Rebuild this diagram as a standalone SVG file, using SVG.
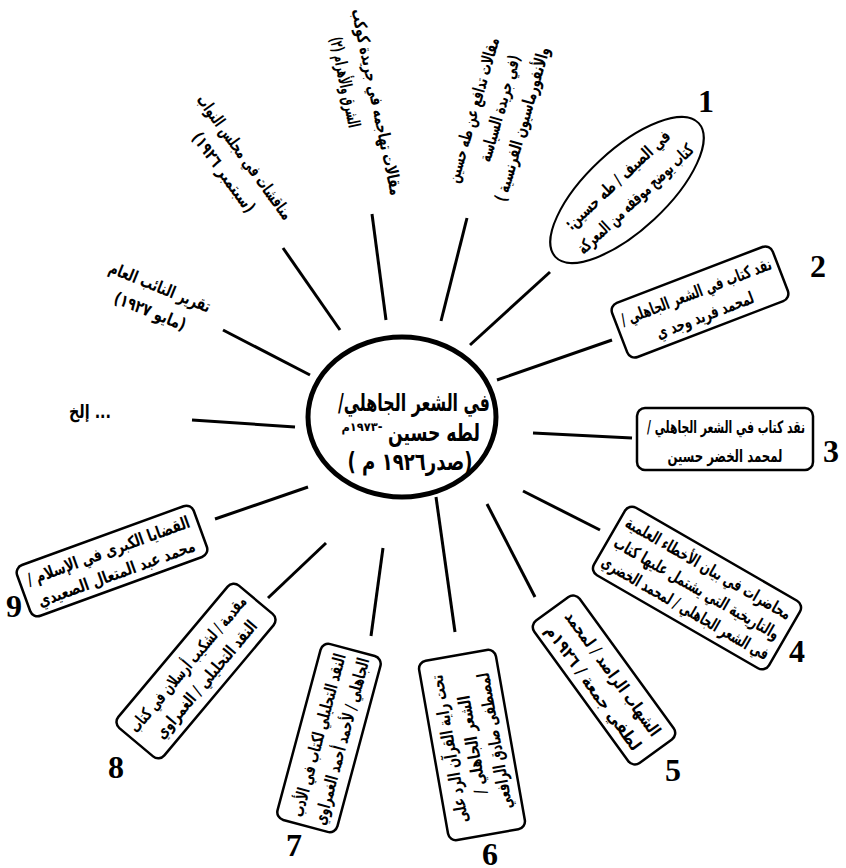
<svg xmlns="http://www.w3.org/2000/svg" width="846" height="868" viewBox="0 0 846 868">
<style>
.ln{stroke:#000;stroke-width:3;fill:none}
.box{fill:#fff;stroke:#000;stroke-width:2.5}
.t{font-family:'DejaVu Sans',sans-serif;font-weight:bold;font-size:17px;text-anchor:middle;direction:rtl;fill:#000}
.num{font-family:'Liberation Serif',serif;font-weight:bold;font-size:32px;text-anchor:middle;fill:#000}
</style>
<rect width="846" height="868" fill="#fff"/>
<g id="connectors">
<line class="ln" x1="283" y1="248" x2="340" y2="330"/>
<line class="ln" x1="372" y1="214" x2="386" y2="320"/>
<line class="ln" x1="467" y1="218" x2="441" y2="321"/>
<line class="ln" x1="470" y1="345" x2="550" y2="272"/>
<line class="ln" x1="497" y1="380" x2="612" y2="340"/>
<line class="ln" x1="533" y1="433" x2="632" y2="438"/>
<line class="ln" x1="523" y1="491" x2="600" y2="530"/>
<line class="ln" x1="487" y1="504" x2="535" y2="597"/>
<line class="ln" x1="436" y1="497" x2="455" y2="632"/>
<line class="ln" x1="383" y1="548" x2="371" y2="636"/>
<line class="ln" x1="326" y1="543" x2="268" y2="598"/>
<line class="ln" x1="308" y1="487" x2="215" y2="519"/>
<line class="ln" x1="295" y1="427" x2="192" y2="420"/>
<line class="ln" x1="310" y1="375" x2="223" y2="330"/>
</g>
<g id="center">
<ellipse cx="402" cy="417" rx="94" ry="80" fill="#fff" stroke="#000" stroke-width="5"/>
<text class="t" x="414" y="411" style="font-size:24px" textLength="152" lengthAdjust="spacingAndGlyphs">في الشعر الجاهلي/</text>
<text class="t" x="434" y="441" style="font-size:24px" textLength="92" lengthAdjust="spacingAndGlyphs">لطه حسين</text>
<text class="t" x="362" y="431" style="font-size:12px" textLength="41" lengthAdjust="spacingAndGlyphs">-١٩٧٣م</text>
<text class="t" x="410" y="470" style="font-size:24px" textLength="125" lengthAdjust="spacingAndGlyphs">(صدر١٩٢٦ م )</text>
</g>
<g id="n1" transform="translate(627,190) rotate(-43)">
<ellipse cx="0" cy="0" rx="98" ry="40" class="box" style="stroke-width:2"/>
<text class="t" x="0" y="-8" textLength="137" lengthAdjust="spacingAndGlyphs">في الصيف / طه حسين:</text>
<text class="t" x="0" y="18" textLength="152" lengthAdjust="spacingAndGlyphs">كتاب يوضح موقفه من المعركة</text>
</g>
<g id="n2" transform="translate(700,302) rotate(-21)">
<rect x="-86" y="-29" width="172" height="58" rx="8" class="box"/>
<text class="t" x="0" y="-5" textLength="160" lengthAdjust="spacingAndGlyphs">نقد كتاب في الشعر الجاهلي /</text>
<text class="t" x="0" y="20" textLength="103" lengthAdjust="spacingAndGlyphs">لمحمد فريد وجد ي</text>
</g>
<g id="n3">
<rect x="637" y="408" width="176" height="62" rx="8" class="box"/>
<text class="t" x="726" y="433" textLength="158" lengthAdjust="spacingAndGlyphs">نقد كتاب في الشعر الجاهلي /</text>
<text class="t" x="725" y="462" textLength="115" lengthAdjust="spacingAndGlyphs">لمحمد الخضر حسين</text>
</g>
<g id="n4" transform="translate(697,588) rotate(30)">
<rect x="-101" y="-39" width="202" height="78" rx="8" class="box"/>
<text class="t" x="0" y="-17" textLength="188" lengthAdjust="spacingAndGlyphs">محاضرات في بيان الأخطاء العلمية</text>
<text class="t" x="0" y="6" textLength="188" lengthAdjust="spacingAndGlyphs">والتاريخية التي يشتمل عليها كتاب</text>
<text class="t" x="0" y="29" textLength="190" lengthAdjust="spacingAndGlyphs">في الشعر الجاهلي / لمحمد الخضري</text>
</g>
<g id="n5" transform="translate(604,680) rotate(54)">
<rect x="-88" y="-28" width="176" height="56" rx="8" class="box"/>
<text class="t" x="0" y="-5" textLength="150" lengthAdjust="spacingAndGlyphs">الشهاب الراصد / لمحمد</text>
<text class="t" x="0" y="19" textLength="150" lengthAdjust="spacingAndGlyphs">لطفي جمعة / ١٩٢٦م</text>
</g>
<g id="n6" transform="translate(472,745) rotate(-100)">
<rect x="-91" y="-39" width="182" height="78" rx="8" class="box"/>
<text class="t" x="0" y="-17" textLength="150" lengthAdjust="spacingAndGlyphs">تحت راية القرآن الرد على</text>
<text class="t" x="0" y="6" textLength="100" lengthAdjust="spacingAndGlyphs">الشعر الجاهلي /</text>
<text class="t" x="0" y="29" textLength="138" lengthAdjust="spacingAndGlyphs">لمصطفى صادق الرافعي</text>
</g>
<g id="n7" transform="translate(329,738) rotate(-75)">
<rect x="-91" y="-31" width="182" height="62" rx="8" class="box"/>
<text class="t" x="0" y="-5" textLength="168" lengthAdjust="spacingAndGlyphs">النقد التحليلي لكتاب في الأدب</text>
<text class="t" x="0" y="19" textLength="172" lengthAdjust="spacingAndGlyphs">الجاهلي / لأحمد أحمد الغمراوي</text>
</g>
<g id="n8" transform="translate(196,671) rotate(-50)">
<rect x="-93" y="-30" width="186" height="60" rx="8" class="box"/>
<text class="t" x="0" y="-5" textLength="172" lengthAdjust="spacingAndGlyphs">مقدمة / لشكيب أرسلان في كتاب</text>
<text class="t" x="0" y="19" textLength="148" lengthAdjust="spacingAndGlyphs">النقد التحليلي / الغمراوي</text>
</g>
<g id="n9" transform="translate(112,561) rotate(-20)">
<rect x="-94" y="-27" width="188" height="54" rx="8" class="box"/>
<text class="t" x="0" y="-5" textLength="172" lengthAdjust="spacingAndGlyphs">القضايا الكبرى في الإسلام /</text>
<text class="t" x="0" y="19" textLength="166" lengthAdjust="spacingAndGlyphs">محمد عبد المتعال الصعيدي</text>
</g>
<g id="t-etc">
<text class="t" x="90" y="418" style="font-size:18px" textLength="42" lengthAdjust="spacingAndGlyphs">... إلخ</text>
</g>
<g id="t-report" transform="translate(160,287) rotate(22)">
<text class="t" x="0" y="6" textLength="108" lengthAdjust="spacingAndGlyphs">تقرير النائب العام</text>
<text class="t" x="0" y="32" textLength="76" lengthAdjust="spacingAndGlyphs">(مايو ١٩٢٧)</text>
</g>
<g id="t-debates" transform="translate(245,157) rotate(54)">
<text class="t" x="0" y="6" textLength="150" lengthAdjust="spacingAndGlyphs">مناقشات في مجلس النواب</text>
<text class="t" x="0" y="32" textLength="95" lengthAdjust="spacingAndGlyphs">(سبتمبر ١٩٢٦)</text>
</g>
<g id="t-attack" transform="translate(377,102) rotate(78)">
<text class="t" x="0" y="6" textLength="190" lengthAdjust="spacingAndGlyphs">مقالات تهاجمه في جريدة كوكب</text>
<text class="t" x="-26" y="33" textLength="92" lengthAdjust="spacingAndGlyphs">الشرق والأهرام (٢)</text>
</g>
<g id="t-defend" transform="translate(473,110) rotate(-74)">
<text class="t" x="0" y="6" textLength="150" lengthAdjust="spacingAndGlyphs">مقالات تدافع عن طه حسين</text>
<text class="t" x="9" y="31" textLength="110" lengthAdjust="spacingAndGlyphs">(في جريدة السياسة</text>
<text class="t" x="0" y="57" textLength="160" lengthAdjust="spacingAndGlyphs">والأنفورماسيون الفرنسية )</text>
</g>
<g id="numbers">
<text class="num" x="706" y="112">1</text>
<text class="num" x="818" y="277">2</text>
<text class="num" x="831" y="462">3</text>
<text class="num" x="797" y="662">4</text>
<text class="num" x="673" y="781">5</text>
<text class="num" x="490" y="865">6</text>
<text class="num" x="294" y="856">7</text>
<text class="num" x="116" y="778">8</text>
<text class="num" x="14" y="617">9</text>
</g>
</svg>
